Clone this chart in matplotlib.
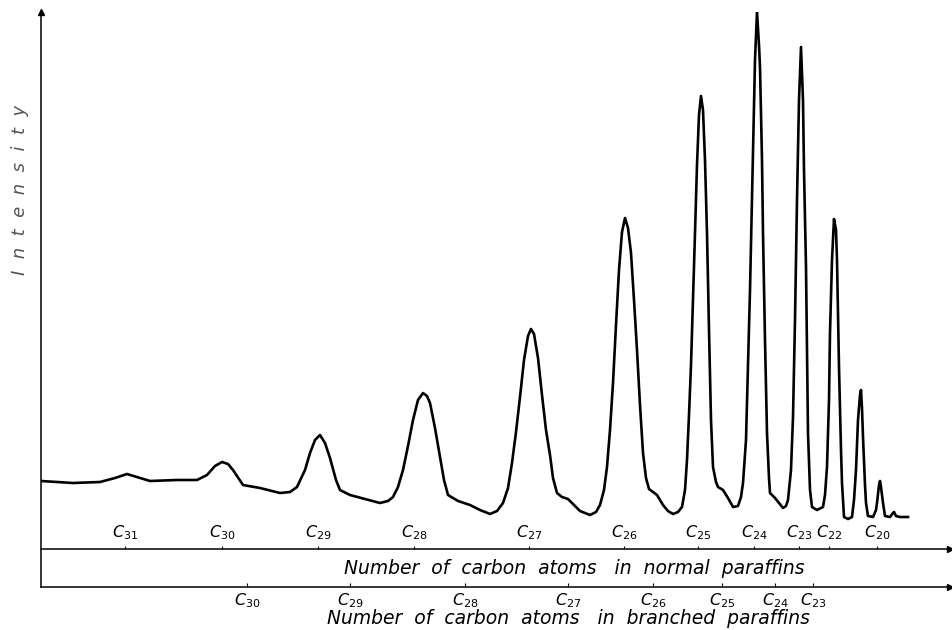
import numpy as np
import matplotlib.pyplot as plt

# Chromatogram trace
# retention (arbitrary chart units, left axis = 0) and intensity (upper axis = 0)
retention = [0, 32, 59, 74, 86, 99, 109, 136, 156, 166, 174, 181, 187, 192, 202, 219,
             239, 249, 256, 264, 269, 274, 279, 284, 289, 295, 299, 309, 324, 339, 347,
             352, 357, 362, 367, 372, 377, 382, 386, 389, 394, 399, 403, 407, 417, 429,
             439, 449, 456, 462, 467, 471, 475, 479, 483, 487, 490, 493, 497, 501, 505,
             509, 512, 516, 521, 527, 533, 539, 549, 555, 559, 563, 566, 569, 572, 575,
             578, 581, 584, 587, 590, 593, 596, 599, 602, 605, 608, 612, 616, 622, 627,
             632, 637, 641, 644, 646, 648, 650, 652, 654, 656, 658, 660, 662, 664, 666,
             668, 670, 672, 675, 677, 682, 687, 692, 697, 700, 702, 705, 707, 709, 711,
             713, 714, 716, 718, 719, 721, 722, 724, 726, 728, 729, 734, 738, 742, 745,
             747, 750, 752, 754, 756, 758, 760, 762, 763, 765, 767, 769, 771, 776, 782,
             784, 786, 788, 789, 791, 793, 795, 796, 798, 800, 801, 803, 807, 811, 813,
             815, 817, 819, 820, 821, 822, 824, 825, 827, 832, 835, 836, 838, 839, 840,
             842, 844, 849, 852, 853, 855, 859, 867]
intensity = [68, 66, 67, 71, 75, 71, 68, 69, 69, 74, 83, 87, 85, 79, 64, 61,
             56, 57, 62, 79, 96, 109, 114, 106, 91, 69, 59, 54, 50, 46, 48,
             52, 62, 79, 103, 129, 149, 156, 153, 146, 121, 92, 69, 54, 48, 44,
             39, 35, 38, 46, 61, 86, 117, 152, 189, 213, 220, 215, 191, 154, 119,
             94, 71, 56, 52, 50, 44, 38, 34, 37, 44, 59, 82, 119, 166, 224,
             279, 317, 331, 321, 296, 249, 199, 144, 96, 71, 60, 57, 54, 44, 38,
             35, 37, 42, 59, 89, 134, 184, 249, 316, 384, 434, 453, 439, 389, 316,
             219, 129, 82, 67, 62, 59, 51, 42, 43, 52, 66, 109, 182, 259, 349,
             439, 489, 537, 504, 482, 389, 316, 209, 116, 71, 56, 51, 46, 41, 43,
             49, 79, 132, 229, 349, 449, 502, 449, 379, 282, 116, 59, 42, 39, 42,
             54, 82, 149, 216, 289, 330, 319, 289, 182, 99, 66, 32, 30, 32, 49,
             79, 129, 154, 159, 141, 112, 64, 46, 33, 32, 39, 46, 64, 68, 62,
             46, 33, 32, 36, 37, 33, 32, 32]

# peak assignments, normal paraffins (upper scale)
normal_pos = [84, 181, 277, 373, 488, 583, 657, 713, 758, 788, 836]
normal_lab = ['31', '30', '29', '28', '27', '26', '25', '24', '23', '22', '20']

# branched paraffins (lower scale)
branched_pos = [206, 309, 424, 527, 612, 681, 734, 772]
branched_lab = ['30', '29', '28', '27', '26', '25', '24', '23']

plt.rcParams['font.family'] = 'DejaVu Sans'
plt.rcParams['mathtext.fontset'] = 'dejavusans'

fig = plt.figure(figsize=(9.52, 6.3), dpi=100)
ax = fig.add_axes([41 / 952, 43 / 630, 909 / 952, 575 / 630])
ax.set_xlim(0, 909)
ax.set_ylim(-38, 537)

ax.plot(retention, intensity, color='black', lw=1.9, solid_joinstyle='round')

for s in ['top', 'right']:
    ax.spines[s].set_visible(False)
ax.spines['left'].set_linewidth(1.1)
ax.spines['bottom'].set_linewidth(1.1)
ax.set_yticks([])

# lower scale: branched paraffins
ax.set_xticks(branched_pos, [r'$\mathit{C}_{\mathit{%s}}$' % l for l in branched_lab])
ax.tick_params(axis='x', direction='in', length=3, width=0.8, pad=3, labelsize=11.5)
ax.set_xlabel('Number  of  carbon  atoms   in  branched  paraffins',
              fontsize=13.5, style='italic')
ax.xaxis.set_label_coords(0.58, -0.038)

# upper scale: normal paraffins
sec = ax.secondary_xaxis(38 / 575)
sec.set_alignment('top')
sec.spines['top'].set_linewidth(1.1)
sec.set_xticks(normal_pos, [r'$\mathit{C}_{\mathit{%s}}$' % l for l in normal_lab])
sec.tick_params(axis='x', direction='out', length=2, width=0.8, pad=3, labelsize=11.5)
ax.text(0.587, -19, 'Number  of  carbon  atoms   in  normal  paraffins',
        transform=ax.get_yaxis_transform(), ha='center', va='center',
        fontsize=13.5, style='italic')

# arrow heads
tr = ax.get_yaxis_transform()
ax.plot([1, 1], [0, -38], transform=tr, ls='none', marker='>', ms=5,
        color='black', clip_on=False)
ax.plot([0], [1], transform=ax.transAxes, marker='^', ms=4, color='black',
        clip_on=False)

fig.text(20 / 952, 0.698, 'I  n  t  e  n  s  i  t  y', rotation=90, ha='center',
         va='center', fontsize=13, style='italic', color='#555555')

fig.savefig('out.png', dpi=100)
